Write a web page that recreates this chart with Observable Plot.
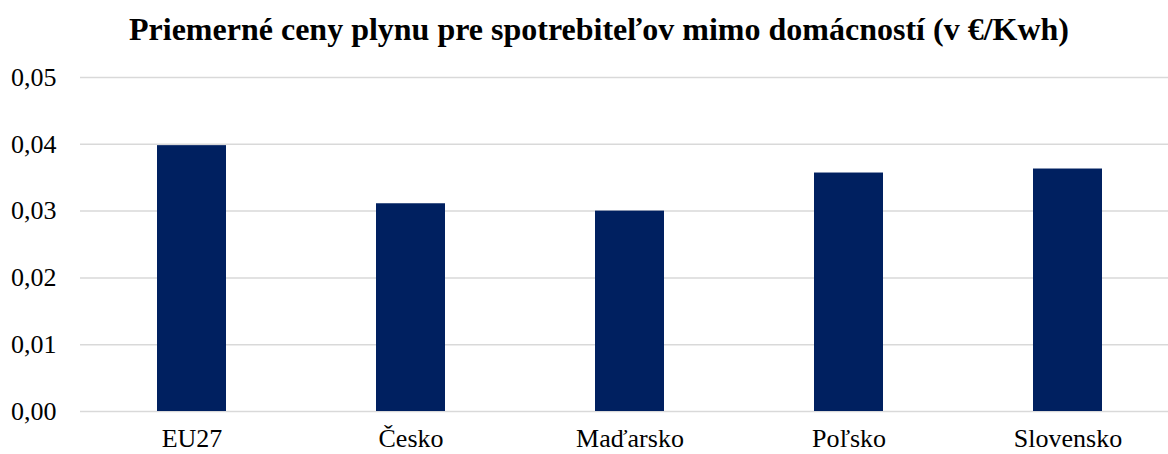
<!DOCTYPE html>
<html>
<head>
<meta charset="utf-8">
<script src="https://cdn.jsdelivr.net/npm/d3@7"></script>
<script src="https://cdn.jsdelivr.net/npm/@observablehq/plot@0.6"></script>
<style>
  body { margin: 0; background: #fff; overflow: hidden; }
  #title { height: 60px; width: 1168px; box-sizing: border-box; padding-left: 30px; text-align: center;
    font-family: "Liberation Serif", "Times New Roman", serif; font-weight: bold; font-size: 32px; line-height: 58px; color: #000; }
  #chart { width: 1168px; overflow: hidden; }
  #chart svg { max-width: none !important; }
</style>
</head>
<body>
<div id="title">Priemerné ceny plynu pre spotrebiteľov mimo domácností (v €/Kwh)</div>
<div id="chart"></div>
<script>
const categories = ["EU27", "Česko", "Maďarsko", "Poľsko", "Slovensko"];
const values = [0.0398, 0.0311, 0.0300, 0.0357, 0.0363];
const yTicks = [0, 0.01, 0.02, 0.03, 0.04, 0.05];
const data = categories.map((c, i) => ({ country: c, value: values[i] }));
const fmt = d => d.toFixed(2).replace(".", ",");

const chart = Plot.plot({
  width: 1178,
  height: 394,
  marginTop: 17,
  marginBottom: 43,
  marginLeft: 80,
  marginRight: 0,
  style: { fontFamily: "'Liberation Serif', 'Times New Roman', serif", fontSize: "26px", color: "#000", background: "#fff", maxWidth: "none" },
  x: { domain: categories, paddingInner: 0.685, paddingOuter: 0.3425, label: null, tickSize: 0 },
  y: { domain: [0, 0.05], ticks: yTicks, tickFormat: fmt, label: null, tickSize: 0 },
  marks: [
    Plot.gridY(yTicks, { stroke: "#d9d9d9", strokeOpacity: 1, strokeWidth: 1.5 }),
    Plot.barY(data, { x: "country", y: "value", fill: "#002060" }),
    Plot.axisX({ tickSize: 0, tickPadding: 17, fontSize: 26 }),
    Plot.axisY({ ticks: yTicks, tickFormat: fmt, tickSize: 0, tickPadding: 24, fontSize: 26 })
  ]
});
document.getElementById("chart").appendChild(chart);
</script>
</body>
</html>
